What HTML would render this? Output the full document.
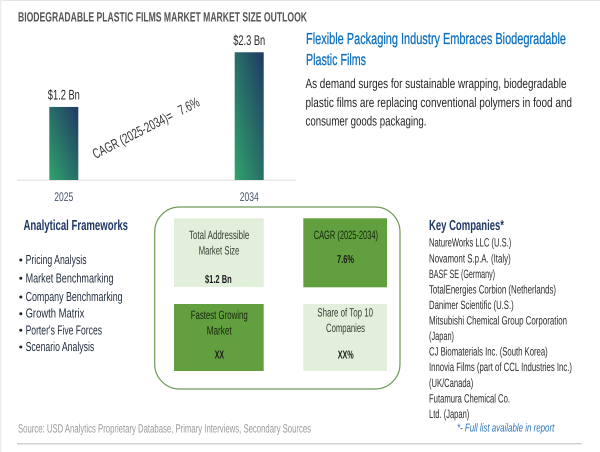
<!DOCTYPE html>
<html lang="en">
<head>
<meta charset="utf-8">
<title>Biodegradable Plastic Films Market Size Outlook</title>
<style>
html,body{margin:0;padding:0;background:#fff;width:600px;height:452px;overflow:hidden}
svg{display:block}
text{font-family:"Liberation Sans",Arial,sans-serif;text-rendering:geometricPrecision}
.body{font-size:13.5px;fill:#262626}
.head{font-size:16px;fill:#0f70bd;stroke:#0f70bd;stroke-width:.3px}
.sec{font-size:14.5px;font-weight:bold;fill:#1f3864}
.fw{font-size:13px;fill:#1f2a3a}
.co{font-size:12px;fill:#2b2b2b}
.kpi{font-size:12px;fill:#333f33}
.kpid{font-size:12px;fill:#15240c}
.kpib{font-size:11.5px;font-weight:bold;fill:#1a1a1a}
</style>
</head>
<body>
<svg id="page" width="600" height="452" viewBox="0 0 600 452" xmlns="http://www.w3.org/2000/svg">
<defs>
<linearGradient id="barGrad" x1="0" y1="1" x2="1" y2="0">
<stop offset="0" stop-color="#30a46c"/>
<stop offset="1" stop-color="#203864"/>
</linearGradient>
</defs>
<rect x="0" y="0" width="600" height="1" fill="#e6e6e6"/>
<rect x="0" y="0" width="1.5" height="452" fill="#eeeeee"/>

<text x="18" y="21.5" font-size="13.5" font-weight="bold" fill="#555555" textLength="289" lengthAdjust="spacingAndGlyphs">BIODEGRADABLE PLASTIC FILMS MARKET MARKET SIZE OUTLOOK</text>

<g id="chart"></g>
<text transform="translate(95.5,159) rotate(-27)" font-size="14" fill="#333333" textLength="118" lengthAdjust="spacingAndGlyphs" xml:space="preserve">CAGR (2025-2034)=   7.6%</text>

<text class="head" x="306" y="44" textLength="260" lengthAdjust="spacingAndGlyphs">Flexible Packaging Industry Embraces Biodegradable</text>
<text class="head" x="306" y="65" textLength="60" lengthAdjust="spacingAndGlyphs">Plastic Films</text>
<text class="body" x="305.5" y="88" textLength="261" lengthAdjust="spacingAndGlyphs">As demand surges for sustainable wrapping, biodegradable</text>
<text class="body" x="305.5" y="107" textLength="266.5" lengthAdjust="spacingAndGlyphs">plastic films are replacing conventional polymers in food and</text>
<text class="body" x="305.5" y="125.7" textLength="121" lengthAdjust="spacingAndGlyphs">consumer goods packaging.</text>

<text class="sec" x="23.5" y="230" textLength="104.5" lengthAdjust="spacingAndGlyphs">Analytical Frameworks</text>
<g>
<circle cx="20.8" cy="260" r="1.5" fill="#222"/>
<text class="fw" x="25.6" y="264" textLength="61" lengthAdjust="spacingAndGlyphs">Pricing Analysis</text>
<circle cx="20.8" cy="278.3" r="1.5" fill="#222"/>
<text class="fw" x="25.6" y="282.3" textLength="88" lengthAdjust="spacingAndGlyphs">Market Benchmarking</text>
<circle cx="20.8" cy="297" r="1.5" fill="#222"/>
<text class="fw" x="25.6" y="301" textLength="97" lengthAdjust="spacingAndGlyphs">Company Benchmarking</text>
<circle cx="20.8" cy="313.7" r="1.5" fill="#222"/>
<text class="fw" x="25.6" y="317.7" textLength="58.7" lengthAdjust="spacingAndGlyphs">Growth Matrix</text>
<circle cx="20.8" cy="330.3" r="1.5" fill="#222"/>
<text class="fw" x="25.6" y="334.3" textLength="76.4" lengthAdjust="spacingAndGlyphs">Porter's Five Forces</text>
<circle cx="20.8" cy="347" r="1.5" fill="#222"/>
<text class="fw" x="25.6" y="351" textLength="68.7" lengthAdjust="spacingAndGlyphs">Scenario Analysis</text>
</g>

<rect x="154.7" y="207" width="245.3" height="182" rx="25" ry="25" fill="#fff" stroke="#6f9a55" stroke-width="1.2"/>
<g>
<rect x="174" y="218.3" width="89.7" height="68.7" fill="#e2efda"/>
<text class="kpi" x="189" y="239" textLength="60.3" lengthAdjust="spacingAndGlyphs">Total Addressible</text>
<text class="kpi" x="198.7" y="254.3" textLength="40.6" lengthAdjust="spacingAndGlyphs">Market Size</text>
<text class="kpib" x="205" y="283" textLength="26.7" lengthAdjust="spacingAndGlyphs">$1.2 Bn</text>
</g>
<g>
<rect x="303.3" y="218.3" width="83.7" height="69" fill="#62a03f"/>
<text class="kpid" x="313.7" y="239" textLength="64.3" lengthAdjust="spacingAndGlyphs">CAGR (2025-2034)</text>
<text class="kpib" x="337" y="263" textLength="17" lengthAdjust="spacingAndGlyphs">7.6%</text>
</g>
<g>
<rect x="174" y="304" width="89.7" height="67" fill="#62a03f"/>
<text class="kpid" x="190.7" y="319" textLength="57" lengthAdjust="spacingAndGlyphs">Fastest Growing</text>
<text class="kpid" x="206.7" y="334.3" textLength="25" lengthAdjust="spacingAndGlyphs">Market</text>
<text class="kpib" x="214.7" y="358.3" textLength="9.3" lengthAdjust="spacingAndGlyphs">XX</text>
</g>
<g>
<rect x="303.3" y="304" width="83.7" height="67" fill="#e2efda"/>
<text class="kpi" x="317.3" y="316.7" textLength="55.7" lengthAdjust="spacingAndGlyphs">Share of Top 10</text>
<text class="kpi" x="326" y="332" textLength="39" lengthAdjust="spacingAndGlyphs">Companies</text>
<text class="kpib" x="337.7" y="358.3" textLength="16" lengthAdjust="spacingAndGlyphs">XX%</text>
</g>

<text class="sec" x="429" y="230" textLength="75" lengthAdjust="spacingAndGlyphs">Key Companies*</text>
<g>
<text class="co" x="429" y="246.7" textLength="82.3" lengthAdjust="spacingAndGlyphs">NatureWorks LLC (U.S.)</text>
<text class="co" x="429" y="262.3" textLength="81.7" lengthAdjust="spacingAndGlyphs">Novamont S.p.A. (Italy)</text>
<text class="co" x="429" y="278" textLength="66" lengthAdjust="spacingAndGlyphs">BASF SE (Germany)</text>
<text class="co" x="429" y="293.5" textLength="127" lengthAdjust="spacingAndGlyphs">TotalEnergies Corbion (Netherlands)</text>
<text class="co" x="429" y="309" textLength="84.7" lengthAdjust="spacingAndGlyphs">Danimer Scientific (U.S.)</text>
<text class="co" x="429" y="324.5" textLength="138" lengthAdjust="spacingAndGlyphs">Mitsubishi Chemical Group Corporation</text>
<text class="co" x="429" y="340" textLength="25" lengthAdjust="spacingAndGlyphs">(Japan)</text>
<text class="co" x="429" y="355.5" textLength="118.7" lengthAdjust="spacingAndGlyphs">CJ Biomaterials Inc. (South Korea)</text>
<text class="co" x="429" y="371" textLength="143" lengthAdjust="spacingAndGlyphs">Innovia Films (part of CCL Industries Inc.)</text>
<text class="co" x="429" y="387" textLength="44.3" lengthAdjust="spacingAndGlyphs">(UK/Canada)</text>
<text class="co" x="429" y="402.5" textLength="81" lengthAdjust="spacingAndGlyphs">Futamura Chemical Co.</text>
<text class="co" x="429" y="418" textLength="40.3" lengthAdjust="spacingAndGlyphs">Ltd. (Japan)</text>
</g>
<text x="457" y="431.3" font-size="11.5" font-style="italic" fill="#2e75b6" textLength="97.3" lengthAdjust="spacingAndGlyphs">*- Full list available in report</text>

<text x="18" y="432.7" font-size="12" fill="#9a9a9a" textLength="293" lengthAdjust="spacingAndGlyphs">Source: USD Analytics Proprietary Database, Primary Interviews, Secondary Sources</text>
<rect x="17" y="443" width="564.7" height="1.5" fill="#d0d0d0"/>
</svg>
<script>
const categories = ['2025', '2034'];
const seriesValues = [1.2, 2.3];
const valueLabels = ['$1.2 Bn', '$2.3 Bn'];

const NS = 'http://www.w3.org/2000/svg';
const chart = document.getElementById('chart');
const baselineY = 180;
const domainMin = -0.27;
const pxPerUnit = 49.7;
const firstCenter = 63.8;
const categoryStep = 185.4;
const barWidth = 29;
function xCenter(i) { return firstCenter + i * categoryStep; }
function yValue(v) { return baselineY - (v - domainMin) * pxPerUnit; }

const axisLine = document.createElementNS(NS, 'rect');
axisLine.setAttribute('x', 17);
axisLine.setAttribute('y', baselineY - 0.5);
axisLine.setAttribute('width', 279);
axisLine.setAttribute('height', 1.5);
axisLine.setAttribute('fill', '#e8e8e8');


chart.appendChild(axisLine);

categories.forEach(function (cat, i) {
  const top = yValue(seriesValues[i]);
  const bar = document.createElementNS(NS, 'rect');
  bar.setAttribute('x', xCenter(i) - barWidth / 2);
  bar.setAttribute('y', top);
  bar.setAttribute('width', barWidth);
  bar.setAttribute('height', baselineY - top);
  bar.setAttribute('fill', 'url(#barGrad)');
  
  
  chart.appendChild(bar);

  const val = document.createElementNS(NS, 'text');
  val.setAttribute('x', xCenter(i));
  val.setAttribute('y', top - 7.5);
  val.setAttribute('text-anchor', 'middle');
  val.setAttribute('font-size', '14');
  val.setAttribute('fill', '#262626');
  val.setAttribute('textLength', '32');
  val.setAttribute('lengthAdjust', 'spacingAndGlyphs');
  
  
  val.textContent = valueLabels[i];
  chart.appendChild(val);

  const tick = document.createElementNS(NS, 'text');
  tick.setAttribute('x', xCenter(i));
  tick.setAttribute('y', 201);
  tick.setAttribute('text-anchor', 'middle');
  tick.setAttribute('font-size', '12.5');
  tick.setAttribute('fill', '#44546a');
  tick.setAttribute('textLength', '19');
  tick.setAttribute('lengthAdjust', 'spacingAndGlyphs');
  
  
  tick.textContent = cat;
  chart.appendChild(tick);
});
</script>
</body>
</html>
